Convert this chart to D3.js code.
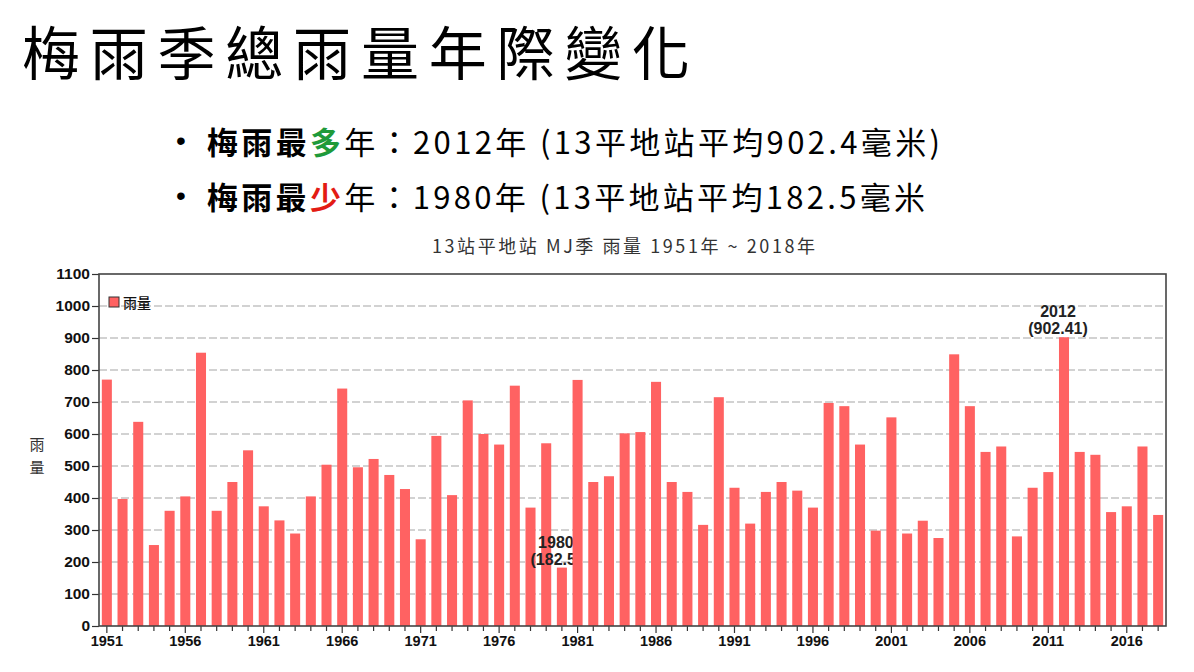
<!DOCTYPE html>
<html><head><meta charset="utf-8">
<script src="https://cdn.jsdelivr.net/npm/d3@7"></script>
<style>
html,body{margin:0;padding:0;background:#fff;}
svg{display:block;}
</style></head>
<body>
<svg id="c" width="1194" height="672"></svg>
<script>
const years = [1951,1952,1953,1954,1955,1956,1957,1958,1959,1960,
1961,1962,1963,1964,1965,1966,1967,1968,1969,1970,
1971,1972,1973,1974,1975,1976,1977,1978,1979,1980,
1981,1982,1983,1984,1985,1986,1987,1988,1989,1990,
1991,1992,1993,1994,1995,1996,1997,1998,1999,2000,
2001,2002,2003,2004,2005,2006,2007,2008,2009,2010,
2011,2012,2013,2014,2015,2016,2017,2018];
const rainfall = [770,397,638,253,360,405,854,360,450,549,
374,330,289,405,504,742,496,522,472,428,
271,594,409,705,600,567,751,370,571,182.5,
769,450,468,602,606,763,450,419,316,715,
432,320,419,450,423,370,697,687,567,298,
652,289,329,275,849,687,544,561,280,432,
481,902.41,544,535,356,374,561,347];
const yTicks = [0,100,200,300,400,500,600,700,800,900,1000,1100];
const gridTicks = [100,200,300,400,500,600,700,800,900,1000];
const labelYears = [1951,1956,1961,1966,1971,1976,1981,1986,1991,1996,2001,2006,2011,2016];
const annotations = [
  {year:1980, line1:"1980", line2:"(182.5)"},
  {year:2012, line1:"2012", line2:"(902.41)"}
];
const pageTitle = "梅雨季總雨量年際變化";
const bulletLines = [
  [{t:"梅雨最",w:700},{t:"多",c:"#1f9a3a",w:700},{t:"年：2012年 (13平地站平均902.4毫米)"}],
  [{t:"梅雨最",w:700},{t:"少",c:"#e31b14",w:700},{t:"年：1980年 (13平地站平均182.5毫米"}]
];
const chartTitle = "13站平地站 MJ季 雨量 1951年 ~ 2018年";
const seriesName = "雨量";
const yAxisTitle = ["雨","量"];

const svg = d3.select("#c");
const CJK = "'Noto Sans CJK TC','Noto Sans CJK SC',sans-serif";
const LAT = "'Liberation Sans',Arial,sans-serif";
const NAR = "'Liberation Sans Narrow','Arial Narrow','Liberation Sans',sans-serif";

// page title
svg.append("text").attr("x",22).attr("y",50).attr("dominant-baseline","central")
  .attr("font-family",CJK).attr("font-size",58).attr("font-weight",400).attr("fill","#000")
  .attr("textLength",668).attr("lengthAdjust","spacing").text(pageTitle);

// bullets
const bulletY=[140,195], bulletLen=[733,718];
bulletLines.forEach((parts,i)=>{
  svg.append("text").attr("x",176).attr("y",bulletY[i]).attr("dominant-baseline","central")
    .attr("font-family",LAT).attr("font-size",28).text("•");
  const t = svg.append("text").attr("x",207).attr("y",bulletY[i]).attr("dominant-baseline","central")
    .attr("font-family",CJK).attr("font-size",31).attr("fill","#000")
    .attr("textLength",bulletLen[i]).attr("lengthAdjust","spacing");
  parts.forEach(p=>{
    t.append("tspan").attr("fill",p.c||"#000").attr("font-weight",p.w||400).text(p.t);
  });
});

// chart title
svg.append("text").attr("x",432).attr("y",245).attr("dominant-baseline","central")
  .attr("font-family",CJK).attr("font-size",18).attr("fill","#333")
  .attr("textLength",383).attr("lengthAdjust","spacing").text(chartTitle);

const L=99,R=1166,T=274,B=626;
const x = d3.scaleBand().domain(years).range([L,R]).paddingInner(0.36).paddingOuter(0.18);
const y = d3.scaleLinear().domain([0,1100]).range([B,T]);

// grid
svg.append("g").selectAll("line").data(gridTicks).join("line")
  .attr("x1",L).attr("x2",R).attr("y1",d=>y(d)).attr("y2",d=>y(d))
  .attr("stroke","#c4c4c4").attr("stroke-width",1.5).attr("stroke-dasharray","8,3");

// bars, each annotated bar followed by its label (so the next bar overlaps it)
const barsG = svg.append("g");
years.forEach((yr,i)=>{
  const v = rainfall[i];
  barsG.append("rect").attr("x",x(yr)).attr("width",x.bandwidth())
    .attr("y",y(v)).attr("height",B-y(v)).attr("fill","#ff6262");
  const a = annotations.find(d=>d.year===yr);
  if(a){
    const cx = x(yr)+x.bandwidth()/2 - 6;
    const g = barsG.append("g").attr("font-family",NAR).attr("font-weight",700)
      .attr("fill","#222").attr("text-anchor","middle").attr("font-size",16);
    g.append("text").attr("x",cx).attr("y",y(v)-20).text(a.line1);
    g.append("text").attr("x",cx).attr("y",y(v)-3).text(a.line2);
  }
});

// y axis
const ya = svg.append("g").attr("transform",`translate(${L},0)`)
  .call(d3.axisLeft(y).tickValues(yTicks).tickSize(7).tickPadding(2).tickFormat(d3.format("d")));
ya.select(".domain").remove();
ya.selectAll("line").attr("stroke","#333").attr("stroke-width",1.2);
ya.selectAll("text").attr("font-family",NAR).attr("font-weight",700).attr("font-size",15.5).attr("fill","#111");

// x axis
const xa = svg.append("g").attr("transform",`translate(0,${B})`)
  .call(d3.axisBottom(x).tickValues(years).tickSize(5)
    .tickFormat(d=>labelYears.includes(d)?String(d):""));
xa.select(".domain").remove();
xa.selectAll(".tick line").attr("stroke","#333").attr("stroke-width",1.2)
  .attr("y2",d=>labelYears.includes(d)?7:5);
xa.selectAll("text").attr("y",10).attr("font-family",NAR).attr("font-weight",700)
  .attr("font-size",14.5).attr("fill","#111");

// frame
svg.append("rect").attr("x",L).attr("y",T).attr("width",R-L).attr("height",B-T)
  .attr("fill","none").attr("stroke","#444").attr("stroke-width",1.6);

// legend
svg.append("rect").attr("x",109).attr("y",297).attr("width",10).attr("height",10)
  .attr("fill","#ff6262").attr("stroke","#333").attr("stroke-width",1);
svg.append("text").attr("x",123).attr("y",302).attr("dominant-baseline","central")
  .attr("font-family",CJK).attr("font-size",14).attr("font-weight",500).attr("fill","#111").text(seriesName);

// y axis title
yAxisTitle.forEach((c,i)=>{
  svg.append("text").attr("x",37).attr("y",443+i*23).attr("dominant-baseline","central")
    .attr("text-anchor","middle").attr("font-family",CJK).attr("font-size",15).attr("fill","#333").text(c);
});
</script>
</body></html>
